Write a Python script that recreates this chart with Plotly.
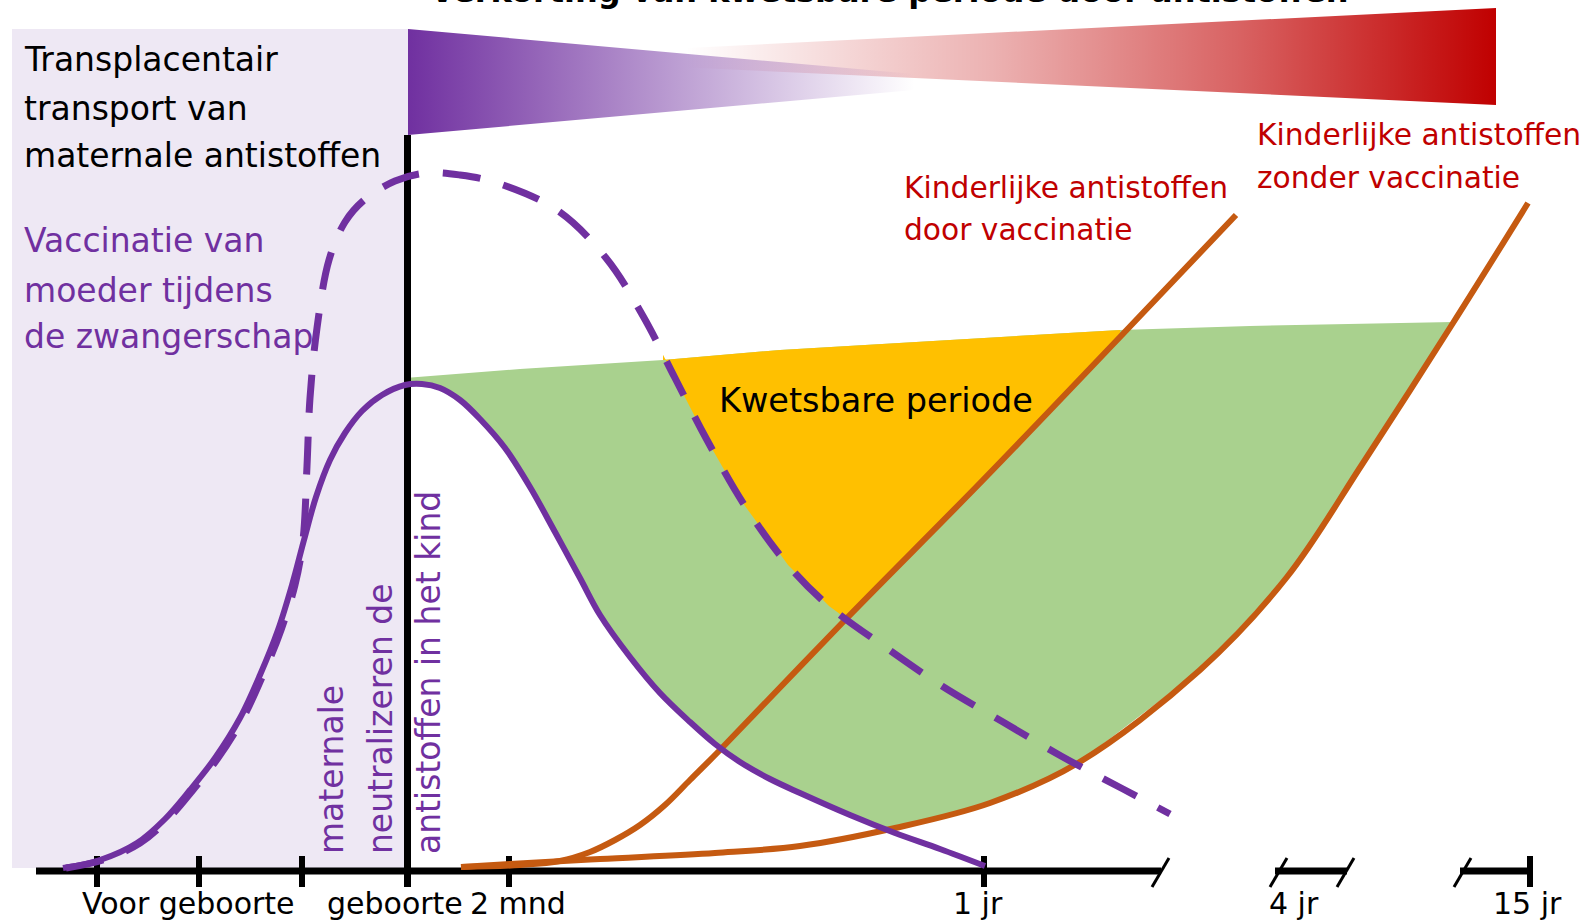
import numpy as np
import plotly.graph_objects as go

W, H = 1588, 922

# ---------------- curve data (picture coordinates: x to the right, y downward) ----------------
# maternal antibodies without vaccination (solid purple)
mat_x = [63, 100, 137, 165, 190, 215, 240, 260, 278, 292, 304, 316, 330, 345, 362, 382, 405, 422, 440, 460, 480, 505, 530, 555, 580, 600, 630, 660, 690, 715, 740, 770, 800, 850, 895, 940, 985]
mat_y = [868, 860, 843, 819, 790, 758, 718, 675, 630, 585, 540, 497, 460, 433, 411, 395, 385, 384, 388, 400, 419, 448, 487, 532, 578, 615, 657, 693, 722, 744, 762, 779, 793, 815, 833, 849, 866]

# maternal antibodies with vaccination during pregnancy (dashed purple)
matv_x = [66, 103, 140, 168, 193, 218, 243, 263, 281, 295, 303, 307, 310, 317, 329, 345, 363, 395, 427, 460, 494, 557, 606, 643, 675, 707, 745, 788, 829, 885, 942, 1003, 1061, 1123, 1170]
matv_y = [868, 860, 843, 819, 790, 758, 718, 675, 630, 585, 540, 466, 398, 328, 260, 222, 201, 181, 173, 175, 182, 210, 258, 316, 378, 440, 506, 565, 606, 647, 686, 722, 756, 789, 814]

# child antibodies through vaccination (orange, steep)
vac_x = [461, 520, 560, 590, 615, 640, 665, 690, 719, 845, 983, 1120, 1236]
vac_y = [867, 865, 861, 852, 840, 825, 805, 780, 751, 620, 480, 337, 215]

# child antibodies without vaccination (orange, slow)
nov_x = [461, 510, 600, 715, 800, 895, 990, 1078, 1200, 1287, 1363, 1453, 1528]
nov_y = [867, 864, 859, 853, 846, 828, 803, 763, 670, 577, 463, 323, 203]

# protection threshold (upper edge of the coloured areas)
thr_x = [405, 520, 663, 780, 950, 1120, 1250, 1453]
thr_y = [378, 369, 360, 350, 340, 330, 326, 322]

# crossing points that bound the areas
green_left, green_right, green_cross = 405, 1453, 891
yel_left, yel_right, yel_cross = 663, 1120, 845

# axis
axis_segments = [(36, 1161), (1275, 1347), (1460, 1530)]
tick_x = [97, 199, 302, 509, 984, 1530]
break_x = [1160, 1278, 1345, 1462]
birth_x = 407.5
axis_y = 871

tick_labels = ["Voor geboorte", "geboorte", "2 mnd", "1 jr", "4 jr", "15 jr"]
tick_label_x = [188, 395, 518, 978, 1294, 1527]

title_text = "Verkorting van kwetsbare periode door antistoffen"
black_lines = ["Transplacentair", "transport van", "maternale antistoffen"]
black_base = [71, 120, 167]
purple_lines = ["Vaccinatie van", "moeder tijdens", "de zwangerschap"]
purple_base = [252, 302, 348]
rot_lines = ["maternale", "neutralizeren de", "antistoffen in het kind"]
rot_base = [343, 392, 440]
red1 = ["Kinderlijke antistoffen", "door vaccinatie"]
red1_base = [198, 240]
red2 = ["Kinderlijke antistoffen", "zonder vaccinatie"]
red2_base = [145, 188]

PURPLE = "#7030A0"
ORANGE = "#C55A11"
GREEN = "#A9D18E"
YELLOW = "#FFC000"
RED = "#C00000"
LAV = "#EEE8F4"
FONT = "DejaVu Sans"


def seg(xs, ys, x0, x1):
    xs = np.asarray(xs, float)
    ys = np.asarray(ys, float)
    inner = (xs > x0) & (xs < x1)
    px = [x0] + list(xs[inner]) + [x1]
    py = [float(np.interp(x0, xs, ys))] + list(ys[inner]) + [float(np.interp(x1, xs, ys))]
    return px, py


fig = go.Figure()

# ---- gradient wedges at top ----
fig.add_trace(go.Scatter(
    x=[483, 1496, 1496, 483], y=[58, 8, 105, 58], mode="lines", fill="toself",
    line=dict(width=0, color="rgba(0,0,0,0)"),
    fillgradient=dict(type="horizontal",
                      colorscale=[[0, "rgba(192,0,0,0)"], [0.2, "rgba(192,0,0,0)"],
                                  [0.5, "rgba(192,0,0,0.3)"], [0.75, "rgba(192,0,0,0.62)"],
                                  [1, "rgba(192,0,0,1)"]]),
    hoverinfo="skip", showlegend=False))
fig.add_trace(go.Scatter(
    x=[408, 1004, 408, 408], y=[29, 82, 135, 29], mode="lines", fill="toself",
    line=dict(width=0, color="rgba(0,0,0,0)"),
    fillgradient=dict(type="horizontal",
                      colorscale=[[0, "rgba(112,48,160,1)"], [0.85, "rgba(112,48,160,0)"], [1, "rgba(112,48,160,0)"]]),
    hoverinfo="skip", showlegend=False))

# ---- green area ----
tx, ty = seg(thr_x, thr_y, green_left, green_right)
nx, ny = seg(nov_x, nov_y, green_cross, green_right)
mx, my = seg(mat_x, mat_y, green_left, green_cross)
gx = tx + nx[::-1] + mx[::-1]
gy = ty + ny[::-1] + my[::-1]
fig.add_trace(go.Scatter(x=gx, y=gy, mode="lines", fill="toself", fillcolor=GREEN,
                         line=dict(width=0, color=GREEN), hoverinfo="skip", showlegend=False))

# ---- yellow area ----
tx, ty = seg(thr_x, thr_y, yel_left, yel_right)
vx, vy = seg(vac_x, vac_y, yel_cross, yel_right)
dx, dy = seg(matv_x, matv_y, yel_left, yel_cross)
yx = tx + vx[::-1] + dx[::-1]
yy = ty + vy[::-1] + dy[::-1]
fig.add_trace(go.Scatter(x=yx, y=yy, mode="lines", fill="toself", fillcolor=YELLOW,
                         line=dict(width=0, color=YELLOW), hoverinfo="skip", showlegend=False))

# ---- axis ----
ax_x, ax_y = [], []
for a, b in axis_segments:
    ax_x += [a, b, None]
    ax_y += [axis_y, axis_y, None]
fig.add_trace(go.Scatter(x=ax_x, y=ax_y, mode="lines", line=dict(color="black", width=7),
                         hoverinfo="skip", showlegend=False))
tk_x, tk_y = [], []
for t in tick_x:
    tk_x += [t, t, None]
    tk_y += [856, 887, None]
fig.add_trace(go.Scatter(x=tk_x, y=tk_y, mode="lines", line=dict(color="black", width=6),
                         hoverinfo="skip", showlegend=False))
br_x, br_y = [], []
for b in break_x:
    br_x += [b - 8, b + 9, None]
    br_y += [887, 858, None]
fig.add_trace(go.Scatter(x=br_x, y=br_y, mode="lines", line=dict(color="black", width=3),
                         hoverinfo="skip", showlegend=False))
fig.add_trace(go.Scatter(x=[birth_x, birth_x], y=[135, 887], mode="lines",
                         line=dict(color="black", width=7), hoverinfo="skip", showlegend=False))

# ---- orange curves ----
fig.add_trace(go.Scatter(x=nov_x, y=nov_y, mode="lines", line=dict(color=ORANGE, width=6, shape="spline"),
                         hoverinfo="skip", showlegend=False))
fig.add_trace(go.Scatter(x=vac_x, y=vac_y, mode="lines", line=dict(color=ORANGE, width=6, shape="spline"),
                         hoverinfo="skip", showlegend=False))

# ---- purple curves ----
fig.add_trace(go.Scatter(x=matv_x, y=matv_y, mode="lines",
                         line=dict(color=PURPLE, width=7, shape="spline", dash="38px,24px"),
                         hoverinfo="skip", showlegend=False))
fig.add_trace(go.Scatter(x=mat_x, y=mat_y, mode="lines", line=dict(color=PURPLE, width=6, shape="spline"),
                         hoverinfo="skip", showlegend=False))

# ---- text ----
ann = []


def text_at(txt, x, baseline, size, color, xanchor="left", bold=False):
    ann.append(dict(text=txt, x=x, y=baseline + 0.236 * size + 2, xref="x", yref="y",
                    xanchor=xanchor, yanchor="bottom", showarrow=False,
                    font=dict(family=FONT, size=size, color=color, weight="bold" if bold else "normal")))


text_at(title_text, 889, 2, 32, "black", xanchor="center", bold=True)
for t, b in zip(black_lines, black_base):
    text_at(t, 22, b, 33, "black")
for t, b in zip(purple_lines, purple_base):
    text_at(t, 22, b, 33, PURPLE)
for t, b in zip(red1, red1_base):
    text_at(t, 902, b, 29.7, RED)
for t, b in zip(red2, red2_base):
    text_at(t, 1255, b, 29.7, RED)
text_at("Kwetsbare periode", 717, 412, 33.5, "black")
for t, xc in zip(tick_labels, tick_label_x):
    ann.append(dict(text=t, x=xc, y=914 - 0.346 * 30, xref="x", yref="y",
                    xanchor="center", yanchor="middle", showarrow=False,
                    font=dict(family=FONT, size=30, color="black")))
for t, b in zip(rot_lines, rot_base):
    ann.append(dict(text=t, x=b - 0.346 * 33, y=856, xref="x", yref="y", textangle=-90,
                    xanchor="center", yanchor="bottom", showarrow=False,
                    font=dict(family=FONT, size=33, color=PURPLE)))

fig.update_layout(
    width=W, height=H, margin=dict(l=0, r=0, t=0, b=0),
    paper_bgcolor="white", plot_bgcolor="white",
    xaxis=dict(range=[0, W], visible=False, fixedrange=True),
    yaxis=dict(range=[H, 0], visible=False, fixedrange=True),
    shapes=[dict(type="rect", xref="x", yref="y", x0=12, x1=408, y0=29, y1=868,
                 fillcolor=LAV, line=dict(width=0), layer="below")],
    annotations=ann,
    showlegend=False,
)

fig.write_html("out.html", config={"displayModeBar": False},
               post_script="document.body.style.margin='0px';document.body.style.overflow='hidden';")
